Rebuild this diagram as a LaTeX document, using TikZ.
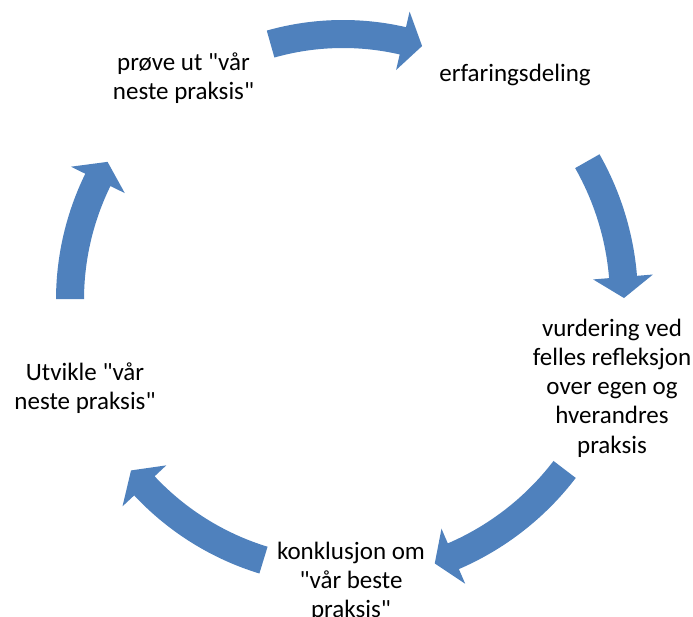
\documentclass[tikz,border=0pt]{standalone}
\usepackage{fontspec}
\setmainfont{Carlito}[Ligatures=TeXOff]
\definecolor{arrowblue}{RGB}{79,129,189}
\usetikzlibrary{calc}
\tikzset{
  lbl/.style={align=center, inner sep=0pt, anchor=base, font=\fontsize{25}{29}\selectfont, text=black},
  cyclearrow/.style={fill=arrowblue, draw=none}
}
% #1 radius, #2 tail angle, #3 head base angle, #4 tip angle
\newcommand{\cycarrow}[4]{%
  \fill[cyclearrow] ($(O)+(#2:#1+14)$) arc[start angle=#2, end angle=#3, radius=#1+14]
    -- ($(O)+(#3:#1+30)$) -- ($(O)+(#4:#1)$) -- ($(O)+(#3:#1-30)$)
    -- ($(O)+(#3:#1-14)$) arc[start angle=#3, end angle=#2, radius=#1-14] -- cycle;}
\begin{document}
\begin{tikzpicture}[x=1pt,y=1pt]
\useasboundingbox (0,0) rectangle (693,616);
\coordinate (O) at (343,316);
\cycarrow{266}{105.8}{77.0}{72.7}
\cycarrow{281}{29.6}{4.7}{0.4}
\cycarrow{279}{-37.4}{-66.7}{-70.8}
\cycarrow{272}{-107}{-136.9}{-141.2}
\cycarrow{273}{179.8}{153.9}{149.6}
\node[lbl] (prove) at (183.5,516) {prøve ut "vår\\neste praksis"};
\node[lbl] (erfaring) at (515,534) {erfaringsdeling};
\node[lbl] (vurdering) at (612,163) {vurdering ved\\felles refleksjon\\over egen og\\hverandres\\praksis};
\node[lbl] (utvikle) at (85,206) {Utvikle "vår\\neste praksis"};
\node[lbl] (konklusjon) at (351,-1) {konklusjon om\\"vår beste\\praksis"};
\end{tikzpicture}
\end{document}
